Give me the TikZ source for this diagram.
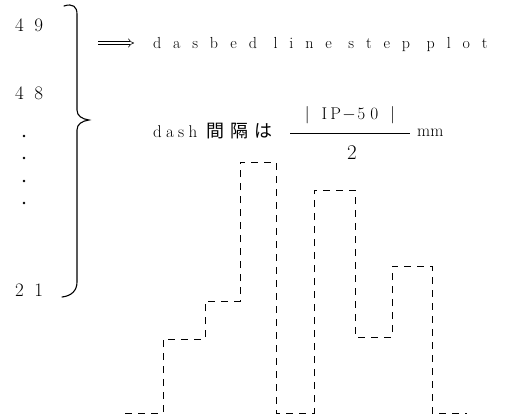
\documentclass[tikz,border=0pt]{standalone}
\usepackage{amsmath}
\usepackage{fontspec}
\setmainfont{Latin Modern Roman}
\usepackage{tikz}
\usetikzlibrary{arrows.meta, positioning, calc}
\newfontfamily\jpfont{Noto Sans CJK JP}
\tikzset{
  num/.style   = {inner sep=0pt, anchor=west,
                  font=\fontsize{19}{19}\selectfont\addfontfeature{LetterSpace=55}},
  dot/.style   = {circle, fill, inner sep=0pt, minimum size=2.6pt},
  brc/.style   = {line width=1.1pt, line cap=round},
  imp/.style   = {double, double distance=2.6pt, line width=0.55pt, -{Implies}},
  ttl/.style   = {inner sep=0pt, anchor=west,
                  font=\fontsize{16}{16}\selectfont\addfontfeature{LetterSpace=74}},
  lbl/.style   = {inner sep=0pt, font=\fontsize{17}{17}\selectfont},
  bar/.style   = {line width=0.8pt},
  stair/.style = {line width=1pt, dash pattern=on 7pt off 6pt},
}

\begin{document}
\begin{tikzpicture}[x=1pt, y=-1pt]
  \useasboundingbox (0,0) rectangle (519,417);

  % values on the left
  \node[num] (n49) at (15,25) {49};
  \node[num] (n48) at (15,93) {48};
  \foreach \y [count=\i] in {136,158,181,203}
    \node[dot] (d\i) at (24,\y) {};
  \node[num] (n21) at (15,290) {21};

  % brace
  \draw[brc] (64,6) .. controls (73,3) and (77,7) .. (77,14)
    -- (77,110) .. controls (77,116) and (82,119) .. (89,120)
    .. controls (82,121) and (77,124) .. (77,130)
    -- (77,282) .. controls (77,291) and (71,296) .. (62,297);

  % explanation
  \coordinate (ia) at (98,43);
  \coordinate (ib) at (134,43);
  \draw[imp] (ia) -- (ib);
  \node[ttl] (ttl) at (153,45) {dasbed line step plot};

  \node[lbl, anchor=west] (dsh) at (153,131)
    {{\addfontfeature{LetterSpace=25}dash}\hspace{9pt}{\jpfont\fontsize{18}{18}\selectfont\addfontfeature{LetterSpace=35}間隔は}};
  \node[lbl] (nmr) at (350,115)
    {$|\hspace{12pt}\mathrm{I}\hspace{3pt}\mathrm{P}\hspace{1.5pt}{-}\hspace{1.5pt}5\hspace{5pt}0\hspace{12pt}|$};
  \coordinate (bl) at (290,133);
  \coordinate (br) at (410,133);
  \draw[bar] (bl) -- (br);
  \node[lbl, font=\fontsize{21}{21}\selectfont] (den) at (352,153) {2};
  \node[lbl, anchor=west] (unt) at (417,133) {mm};

  % dashed step plot
  \draw[stair] (125,413) -- (163,413) -- (163,339) -- (205,339) -- (205,301)
    -- (240,301) -- (240,162) -- (276,162) -- (276,413) -- (314,413)
    -- (314,190) -- (355,190) -- (355,337) -- (392,337) -- (392,266)
    -- (432,266) -- (432,413) -- (467,413);
\end{tikzpicture}
\end{document}
